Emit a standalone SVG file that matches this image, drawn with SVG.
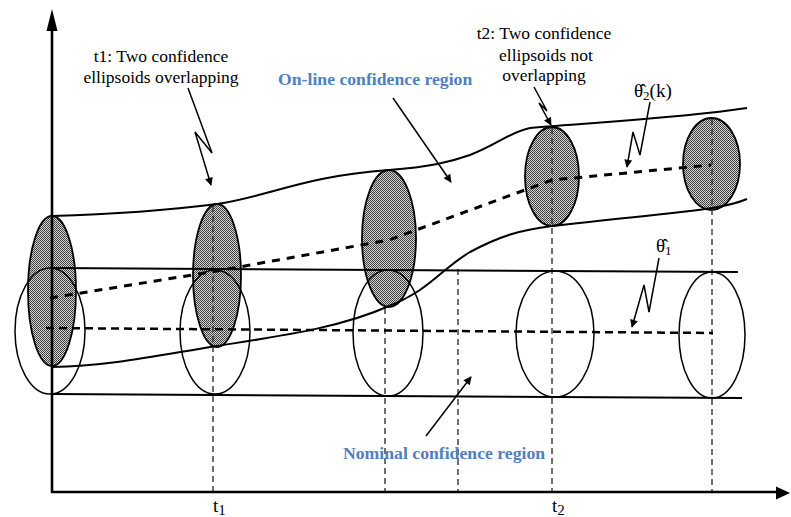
<svg xmlns="http://www.w3.org/2000/svg" width="791" height="517" viewBox="0 0 791 517">
<defs>
<pattern id="dots" width="2" height="2" patternUnits="userSpaceOnUse">
<rect width="2" height="2" fill="#d2d2d2"/>
<rect x="0" y="0" width="1" height="1" fill="#3a3a3a"/>
<rect x="1" y="1" width="1" height="1" fill="#4a4a4a"/>
</pattern>
<marker id="ah" viewBox="0 0 10 10" refX="9" refY="5" markerWidth="9" markerHeight="8" markerUnits="userSpaceOnUse" orient="auto">
<path d="M0,0 L10,5 L0,10 z" fill="#000"/>
</marker>
<style>
.ax{stroke:#000;stroke-width:2.6;fill:none}
.bd{stroke:#000;stroke-width:2;fill:none}
.el{stroke:#000;stroke-width:1.5;fill:none}
.sh{stroke:#000;stroke-width:1.8;fill:url(#dots)}
.dc{stroke:#000;stroke-width:3;fill:none;stroke-dasharray:8 7}
.dn{stroke:#000;stroke-width:2.5;fill:none;stroke-dasharray:8 5}
.vd{stroke:#333;stroke-width:1.4;fill:none;stroke-dasharray:6 4}
.ptr{stroke:#000;stroke-width:1.5;fill:none;marker-end:url(#ah)}
.lbl{font-family:"Liberation Serif","Times New Roman",serif;font-size:17.5px;fill:#000}
.blue{font-family:"Liberation Serif","Times New Roman",serif;font-size:17.7px;font-weight:bold;fill:#5080BE}
.th{font-family:"Liberation Serif","Times New Roman",serif;font-size:19px;fill:#000}
</style>
</defs>
<rect width="791" height="517" fill="#fff"/>

<g id="online-shaded">
<ellipse class="sh" cx="52" cy="291" rx="24" ry="75"/>
<ellipse class="sh" cx="217" cy="275.5" rx="24" ry="71.5"/>
<ellipse class="sh" cx="389" cy="238.5" rx="27" ry="68.5"/>
<ellipse class="sh" cx="552" cy="176.5" rx="27" ry="49.5"/>
<ellipse class="sh" cx="711.5" cy="164" rx="28.5" ry="46"/>
</g>

<g id="time-markers">
<line class="vd" x1="213" y1="206" x2="213" y2="492"/>
<line class="vd" x1="385" y1="308" x2="385" y2="492"/>
<line class="vd" x1="458" y1="269" x2="458" y2="492"/>
<line class="vd" x1="552" y1="128" x2="552" y2="492"/>
<line class="vd" x1="712" y1="119" x2="712" y2="492"/>
</g>

<g id="nominal-region">
<ellipse class="el" cx="50" cy="331" rx="35" ry="63"/>
<ellipse class="el" cx="215" cy="332" rx="35" ry="62"/>
<ellipse class="el" cx="388" cy="333" rx="35" ry="63"/>
<ellipse class="el" cx="555" cy="334" rx="39" ry="63"/>
<ellipse class="el" cx="712" cy="335" rx="33" ry="63"/>
<line class="bd" x1="52" y1="268" x2="738" y2="272"/>
<line class="bd" x1="52" y1="394" x2="742" y2="398"/>
<line class="dn" x1="46" y1="328" x2="713" y2="333"/>
</g>

<g id="online-region">
<path class="bd" d="M52,216 C120,214 170,210 217,204 C270,196 305,176 389,170 C430,167 450,162 470,155 C500,143 510,132 530,128 C600,122 680,118 747,108"/>
<path class="bd" d="M52,367 C110,366 160,355 217,346 C280,336 340,328 389,306 C430,290 440,270 470,252 C500,236 520,230 552,226 C620,218 680,213 712,208 C730,205 740,202 747,199"/>
<path class="dc" d="M50,298 L217,271 L389,240 L552,180 L711,165"/>
</g>

<g id="axes">
<line class="ax" x1="52" y1="493" x2="52" y2="28"/>
<polygon points="52,9 46.5,31 57.5,31" fill="#000"/>
<line class="ax" x1="51" y1="492" x2="776" y2="492"/>
<polygon points="790,493 776,486.5 776,499.5" fill="#000"/>
</g>

<g id="connectors">
<path class="ptr" d="M188,88 L212,153 L195,132 L211,185"/>
<path class="ptr" d="M534,87 L547,111 L539,103 L551,125"/>
<path class="ptr" d="M650,102 L640,155 L633,132 L627,167"/>
<path class="ptr" d="M659,258 L649,312 L644,285 L632,327"/>
<path class="ptr" d="M393,98 L451,182"/>
<path class="ptr" d="M426,436 L471,377"/>
</g>

<g id="label-t1">
<text class="lbl" x="161" y="62" text-anchor="middle">t1: Two confidence</text>
<text class="lbl" x="161" y="83" text-anchor="middle">ellipsoids overlapping</text>
</g>
<g id="label-t2">
<text class="lbl" x="544" y="39" text-anchor="middle">t2: Two confidence</text>
<text class="lbl" x="546" y="61" text-anchor="middle">ellipsoids not</text>
<text class="lbl" x="544" y="81" text-anchor="middle">overlapping</text>
</g>
<g id="label-online">
<text class="blue" x="278" y="85">On-line confidence region</text>
</g>
<g id="label-nominal">
<text class="blue" x="343" y="459">Nominal confidence region</text>
</g>
<g id="label-theta2">
<text class="th" x="634" y="97">θ̂<tspan font-size="13" dy="3">2</tspan><tspan dy="-3">(k)</tspan></text>
</g>
<g id="label-theta1">
<text class="th" x="656" y="252">θ̂<tspan font-size="13" dy="3">1</tspan></text>
</g>
<g id="label-axis-t1">
<text class="th" x="213" y="512" font-size="22">t<tspan font-size="15" dy="3">1</tspan></text>
</g>
<g id="label-axis-t2">
<text class="th" x="552" y="512" font-size="22">t<tspan font-size="15" dy="3">2</tspan></text>
</g>
</svg>
